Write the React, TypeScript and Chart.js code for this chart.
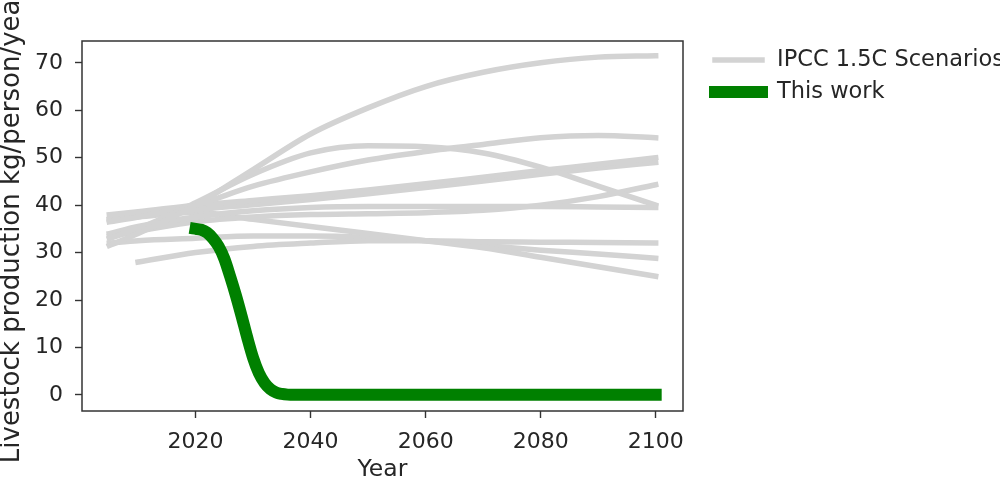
import React, { useEffect, useRef } from "react";
import { Chart, registerables } from "chart.js";

Chart.register(...registerables);

// ---- data ----
const SCENARIO_YEARS = [2005, 2010, 2020, 2030, 2040, 2050, 2060, 2070, 2080, 2090, 2100];
const SCEN_A = [31.5, 34, 40, 47.5, 55, 60.5, 65, 68, 70, 71.2, 71.5];
const SCEN_B = [33, 35, 40.5, 46.5, 51, 52.5, 52.3, 51, 48, 44, 40];
const SCEN_C = [36.5, 37.5, 40, 44, 47, 49.5, 51.3, 52.8, 54.2, 54.7, 54.2];
const SCEN_D1 = [38, 38.6, 40, 41, 42, 43.2, 44.5, 45.9, 47.3, 48.6, 50];
const SCEN_D2 = [37, 37.6, 39, 40.1, 41.2, 42.4, 43.7, 45.1, 46.5, 47.8, 49];
const SCEN_E = [34, 35.5, 37.5, 38.8, 39.5, 39.7, 39.7, 39.7, 39.7, 39.6, 39.5];
const SCEN_F = [33.5, 34.5, 36.5, 37.5, 38, 38.2, 38.4, 38.9, 40, 41.8, 44.3];
const SCEN_G = [37, 37.5, 38.5, 37, 35.5, 34, 32.5, 31, 29, 27, 25];
const SCEN_H = [null, 28, 30, 31.3, 32, 32.5, 32.5, 32.3, 32.2, 32.1, 32];
const SCEN_I = [32, 32.5, 33, 33.5, 33.5, 33.2, 32.5, 31.5, 30.5, 29.7, 28.8];
const SCENARIOS = [SCEN_A, SCEN_B, SCEN_C, SCEN_D1, SCEN_D2, SCEN_E, SCEN_F, SCEN_G, SCEN_H, SCEN_I];

const THIS_WORK_YEARS = [
  2020, 2021, 2022, 2023, 2024, 2025, 2026, 2027, 2028, 2029, 2030, 2031, 2032, 2033, 2034, 2035,
  2036, 2037, 2040, 2060, 2080, 2100,
];
const THIS_WORK_VALUES = [
  35, 34.8, 34.2, 33, 31.3, 28.7, 25, 21, 16.6, 12, 7.8, 4.6, 2.5, 1.2, 0.5, 0.2, 0.05, 0, 0, 0, 0, 0,
];

const X_TICKS = [2020, 2040, 2060, 2080, 2100];
const Y_TICKS = [0, 10, 20, 30, 40, 50, 60, 70];
const LEGEND_LABELS = ["IPCC 1.5C Scenarios", "This work"];
const X_TITLE = "Year";
const Y_TITLE = "Livestock production kg/person/year";

const GRAY = "#d3d3d3";
const GREEN = "#008000";
const TEXT = "#262626";
const FONT = "'DejaVu Sans', sans-serif";

const framePlugin = {
  id: "frame",
  afterDatasetsDraw(chart: any) {
    const { ctx, chartArea } = chart;
    ctx.save();
    ctx.strokeStyle = "#333333";
    ctx.lineWidth = 1.5;
    ctx.strokeRect(chartArea.left, chartArea.top, chartArea.right - chartArea.left, chartArea.bottom - chartArea.top);
    ctx.restore();
  },
};

const legendPlugin = {
  id: "mplLegend",
  afterDraw(chart: any) {
    const { ctx } = chart;
    const items = [
      { label: LEGEND_LABELS[0], color: GRAY, width: 5.5, y: 60 },
      { label: LEGEND_LABELS[1], color: GREEN, width: 12, y: 92 },
    ];
    ctx.save();
    items.forEach((it) => {
      ctx.beginPath();
      ctx.strokeStyle = it.color;
      ctx.lineWidth = it.width;
      ctx.lineCap = "square";
      ctx.moveTo(715, it.y);
      ctx.lineTo(762, it.y);
      ctx.stroke();
      ctx.fillStyle = TEXT;
      ctx.font = `22.5px ${FONT}`;
      ctx.textBaseline = "middle";
      ctx.textAlign = "left";
      ctx.fillText(it.label, 777, it.y);
    });
    ctx.restore();
  },
};

export default function App() {
  const ref = useRef<HTMLCanvasElement | null>(null);

  useEffect(() => {
    if (!ref.current) return;
    const scenarioSets = SCENARIOS.map((vals, i) => ({
      label: i === 0 ? LEGEND_LABELS[0] : `scenario ${i + 1}`,
      data: SCENARIO_YEARS.map((yr, j) => ({ x: yr, y: vals[j] })).filter((p) => p.y !== null),
      borderColor: GRAY,
      backgroundColor: GRAY,
      borderWidth: 5.5,
      borderCapStyle: "square" as const,
      pointRadius: 0,
      cubicInterpolationMode: "monotone" as const,
      fill: false,
      order: 1,
    }));
    const chart = new Chart(ref.current, {
      type: "line",
      data: {
        datasets: [
          {
            label: LEGEND_LABELS[1],
            data: THIS_WORK_YEARS.map((yr, j) => ({ x: yr, y: THIS_WORK_VALUES[j] })),
            borderColor: GREEN,
            backgroundColor: GREEN,
            borderWidth: 12,
            borderCapStyle: "square",
            borderJoinStyle: "round",
            pointRadius: 0,
            cubicInterpolationMode: "monotone",
            fill: false,
            order: 0,
          },
          ...scenarioSets,
        ],
      },
      options: {
        animation: false,
        responsive: false,
        devicePixelRatio: 1,
        layout: { padding: { top: 41, right: 317, bottom: 0, left: 0 } },
        plugins: { legend: { display: false }, tooltip: { enabled: false } },
        scales: {
          x: {
            type: "linear",
            min: 2000.25,
            max: 2104.75,
            afterFit: (s: any) => {
              s.height = 73;
            },
            afterBuildTicks: (s: any) => {
              s.ticks = X_TICKS.map((v) => ({ value: v }));
            },
            ticks: {
              color: TEXT,
              font: { family: FONT, size: 22 },
              padding: 11,
              maxRotation: 0,
              callback: (v: any) => String(v),
            },
            grid: {
              display: true,
              drawOnChartArea: false,
              drawTicks: true,
              tickLength: 7,
              tickColor: "#333333",
              tickWidth: 1.4,
            },
            border: { display: false },
            title: {
              display: true,
              text: X_TITLE,
              color: TEXT,
              font: { family: FONT, size: 23.5, lineHeight: 1.1 },
              padding: { top: 0, bottom: 1 },
            },
          },
          y: {
            type: "linear",
            min: -3.4,
            max: 74.6,
            afterFit: (s: any) => {
              s.width = 82;
            },
            afterBuildTicks: (s: any) => {
              s.ticks = Y_TICKS.map((v) => ({ value: v }));
            },
            ticks: {
              color: TEXT,
              font: { family: FONT, size: 22 },
              padding: 12,
              callback: (v: any) => String(v),
            },
            grid: {
              display: true,
              drawOnChartArea: false,
              drawTicks: true,
              tickLength: 7,
              tickColor: "#333333",
              tickWidth: 1.4,
            },
            border: { display: false },
            title: {
              display: true,
              text: Y_TITLE,
              color: TEXT,
              font: { family: FONT, size: 26, lineHeight: 0.95 },
              padding: { top: 0, bottom: 0 },
            },
          },
        },
      },
      plugins: [framePlugin, legendPlugin],
    });
    return () => chart.destroy();
  }, []);

  return (
    <canvas
      ref={ref}
      width={1000}
      height={484}
      style={{ position: "fixed", left: 0, top: 0, width: 1000, height: 484, background: "#ffffff" }}
    />
  );
}
